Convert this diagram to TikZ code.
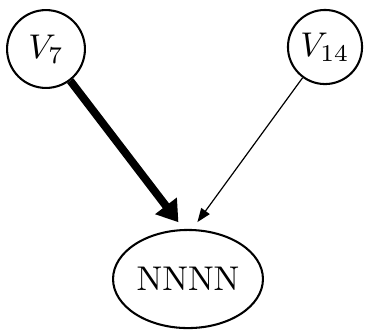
\documentclass[tikz,border=0pt]{standalone}
\usepackage{amsmath, amsfonts}
\usetikzlibrary{arrows.meta, shapes.geometric}
\tikzset{
->, % directed edges
>=Triangle, % filled triangle heads
every node/.style={line width=0.6pt}, % outline of the nodes
var/.style={draw, circle, inner sep=0pt}, % a variable node
outnode/.style={draw, ellipse, inner sep=0pt, minimum width=43.7pt, minimum height=28.6pt}, % the output node
strong/.style={line width=2.3pt, -{Triangle[length=6pt, width=7.6pt]}}, % heavy edge
weak/.style={line width=0.35pt, -{Triangle[length=4pt, width=3pt]}}, % light edge
}

\begin{document}
\begin{tikzpicture}[x=0.2915pt, y=-0.2915pt]
    \useasboundingbox (0,0) rectangle (367,330);
    \node[var, minimum size=22.7pt] (v7) at (46,49) {$V_7$};
    \node[var, minimum size=21.6pt] (v14) at (325,47) {$V_{14}$};
    \node[outnode] (nn) at (188,279) {NNNN};
    \draw[strong, shorten >=2.5pt] (v7) -- (nn.95);
    \draw[weak, shorten >=2.5pt] (v14) -- (nn.85);
\end{tikzpicture}
\end{document}
